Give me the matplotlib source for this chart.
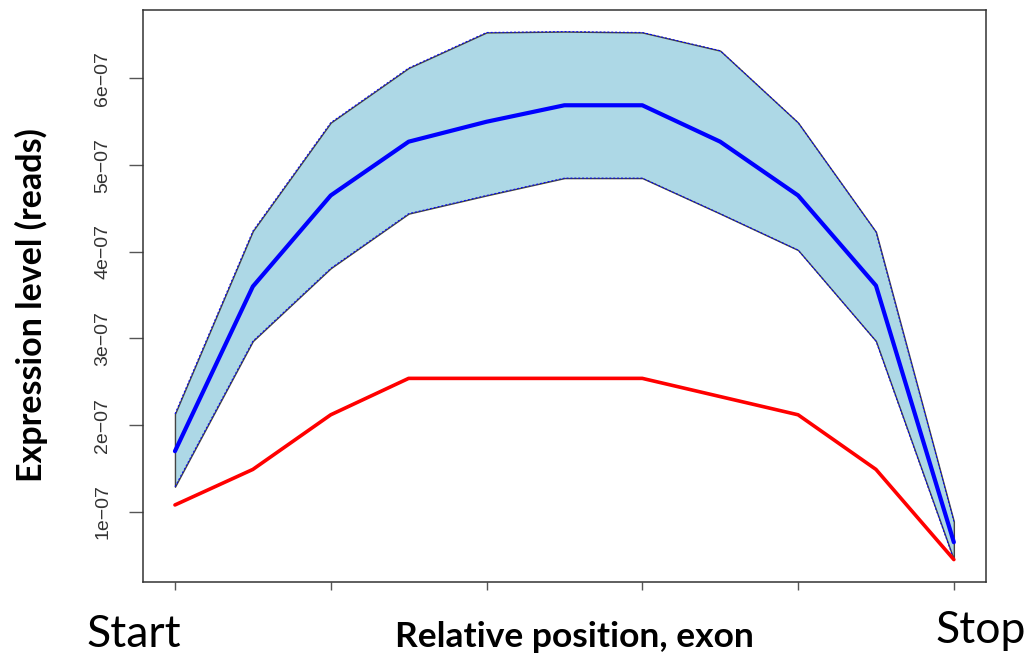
import numpy as np
import matplotlib
matplotlib.use("Agg")
from matplotlib import pyplot as plt

# relative position along the exon (0 = start, 10 = stop)
position = [0, 1, 2, 3, 4, 5, 6, 7, 8, 9, 10]

# expression level, in units of 1e-07 reads
mean_expr = [1.70, 3.60, 4.65, 5.27, 5.50, 5.69, 5.69, 5.27, 4.65, 3.61, 0.65]
upper_expr = [2.13, 4.24, 5.49, 6.12, 6.53, 6.54, 6.53, 6.32, 5.49, 4.23, 0.89]
lower_expr = [1.29, 2.97, 3.81, 4.44, 4.65, 4.85, 4.85, 4.44, 4.02, 2.97, 0.45]
red_expr = [1.08, 1.49, 2.12, 2.54, 2.54, 2.54, 2.54, 2.33, 2.12, 1.49, 0.45]

y_ticks = [1, 2, 3, 4, 5, 6]
y_tick_labels = ["1e\u221207", "2e\u221207", "3e\u221207", "4e\u221207", "5e\u221207", "6e\u221207"]
x_ticks = [0, 2, 4, 6, 8, 10]

scale = 1e-7
x = np.array(position)
mean_v = np.array(mean_expr) * scale
up_v = np.array(upper_expr) * scale
lo_v = np.array(lower_expr) * scale
red_v = np.array(red_expr) * scale

fig = plt.figure(figsize=(10.29, 6.6), dpi=100)
ax = fig.add_axes([0.139, 0.118, 0.819, 0.867])

# shaded band between lower and upper
ax.fill_between(x, lo_v, up_v, facecolor="#add8e6", edgecolor="#444444", linewidth=1.0)
ax.plot(x, up_v, color="blue", lw=0.7, dashes=(2, 2))
ax.plot(x, lo_v, color="blue", lw=0.7, dashes=(2, 2))

ax.plot(x, mean_v, color="blue", lw=3.0, solid_capstyle="round")
ax.plot(x, red_v, color="red", lw=2.6, solid_capstyle="round")

ax.set_xlim(-0.41, 10.41)
ax.set_ylim(0.19 * scale, 6.79 * scale)

ax.set_xticks(x_ticks)
ax.set_xticklabels([])
ax.set_yticks([t * scale for t in y_ticks])
ax.set_yticklabels(y_tick_labels, rotation=90, va="center",
                   fontsize=14, family="Liberation Sans", color="#333333")
ax.tick_params(axis="y", direction="out", length=10, width=1.0, color="#555555", pad=13)
ax.tick_params(axis="x", direction="out", length=6, width=1.0, color="#555555")

for s in ax.spines.values():
    s.set_color("#333333")
    s.set_linewidth(1.1)

fig.text(0.031, 0.538, "Expression level (reads)", rotation=90, ha="center", va="center",
         fontsize=24.5, fontweight="bold", family="Lato")
fig.text(0.558, 0.020, "Relative position, exon", ha="center", va="baseline",
         fontsize=25.5, fontweight="bold", family="Lato")
fig.text(0.130, 0.020, "Start", ha="center", va="baseline", fontsize=32, family="Lato")
fig.text(0.953, 0.026, "Stop", ha="center", va="baseline", fontsize=32, family="Lato")

fig.savefig("out.png", dpi=100)
